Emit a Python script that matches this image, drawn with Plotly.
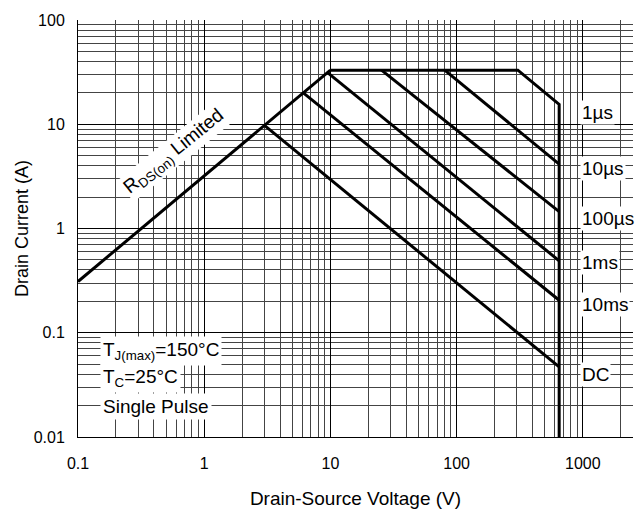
import numpy as np
import plotly.graph_objects as go

# ---------------- data ----------------
rds_v = [0.1, 10]
rds_i = [0.31, 33]

limit_v = [10, 306, 650, 650]
limit_i = [33, 33, 15.5, 0.01]

us10_v = [80.5, 650]
us10_i = [33, 4.14]

us100_v = [25.4, 650]
us100_i = [33, 1.45]

ms1_v = [9.5, 650]
ms1_i = [31.3, 0.49]

ms10_v = [6.1, 650]
ms10_i = [20.0, 0.205]

dc_v = [3.0, 650]
dc_i = [9.75, 0.047]

curve_labels = ["1µs", "10µs", "100µs", "1ms", "10ms", "DC"]
curve_label_i = [13.1, 3.8, 1.26, 0.467, 0.185, 0.040]

x_tick_vals = [0.1, 1, 10, 100, 1000]
x_tick_text = ["0.1", "1", "10", "100", "1000"]
y_tick_vals = [0.01, 0.1, 1, 10, 100]
y_tick_text = ["0.01", "0.1", "1", "10", "100"]

# ---------------- figure ----------------
FONT = "Liberation Sans, Arial, sans-serif"
fig = go.Figure()
line = dict(color="black", width=3)
for xv, yv in [(rds_v, rds_i), (limit_v, limit_i), (us10_v, us10_i),
               (us100_v, us100_i), (ms1_v, ms1_i), (ms10_v, ms10_i),
               (dc_v, dc_i)]:
    fig.add_trace(go.Scatter(x=xv, y=yv, mode="lines", line=line,
                             hoverinfo="skip"))

minor_x = [m * 10.0 ** k for k in range(-1, 4) for m in range(2, 10)]
minor_y = [m * 10.0 ** k for k in range(-2, 2) for m in range(2, 10)]

fig.update_xaxes(
    type="log", range=[-1, np.log10(2500)],
    tickmode="array", tickvals=x_tick_vals, ticktext=x_tick_text,
    showgrid=True, gridcolor="black", gridwidth=1,
    minor=dict(tickmode="array", tickvals=minor_x, showgrid=True,
               gridcolor="#444", gridwidth=1, ticks=""),
    showline=True, linecolor="black", linewidth=1, ticks="",
    ticklabelstandoff=12, tickfont=dict(size=16),
    title=dict(text="Drain-Source Voltage (V)", font=dict(size=19), standoff=20),
    zeroline=False,
)
fig.update_yaxes(
    type="log", range=[-2, 2],
    tickmode="array", tickvals=y_tick_vals, ticktext=y_tick_text,
    showgrid=True, gridcolor="black", gridwidth=1,
    minor=dict(tickmode="array", tickvals=minor_y, showgrid=True,
               gridcolor="#444", gridwidth=1, ticks=""),
    showline=True, linecolor="black", linewidth=1, ticks="",
    ticklabelstandoff=9, tickfont=dict(size=16),
    title=dict(text="Drain Current (A)", font=dict(size=18), standoff=0),
    zeroline=False,
)

# curve labels on the right
for txt, yi in zip(curve_labels, curve_label_i):
    fig.add_annotation(x=np.log10(950), y=np.log10(yi), text=txt,
                       showarrow=False, xanchor="left", yanchor="middle",
                       bgcolor="white", borderpad=1, font=dict(size=19))

# condition notes
for txt, yi in [("T<sub>J(max)</sub>=150°C", 0.0673),
                ("T<sub>C</sub>=25°C", 0.0368),
                ("Single Pulse", 0.01954)]:
    fig.add_annotation(x=np.log10(0.149), y=np.log10(yi), text=txt,
                       showarrow=False, xanchor="left", yanchor="middle",
                       bgcolor="white", borderpad=2, font=dict(size=19))

fig.add_annotation(x=np.log10(0.577), y=np.log10(5.4),
                   text="R<sub>DS(on)</sub> Limited", textangle=-39,
                   showarrow=False, bgcolor="white", borderpad=1,
                   font=dict(size=19))

fig.update_layout(
    width=635, height=514,
    margin=dict(l=78, r=2, t=20, b=77),
    plot_bgcolor="white", paper_bgcolor="white",
    showlegend=False,
    font=dict(family=FONT, size=16, color="black"),
)

fig.write_html("out.html",
               config={"displayModeBar": False},
               post_script="document.body.style.margin='0';"
                           "document.body.style.padding='0';")
